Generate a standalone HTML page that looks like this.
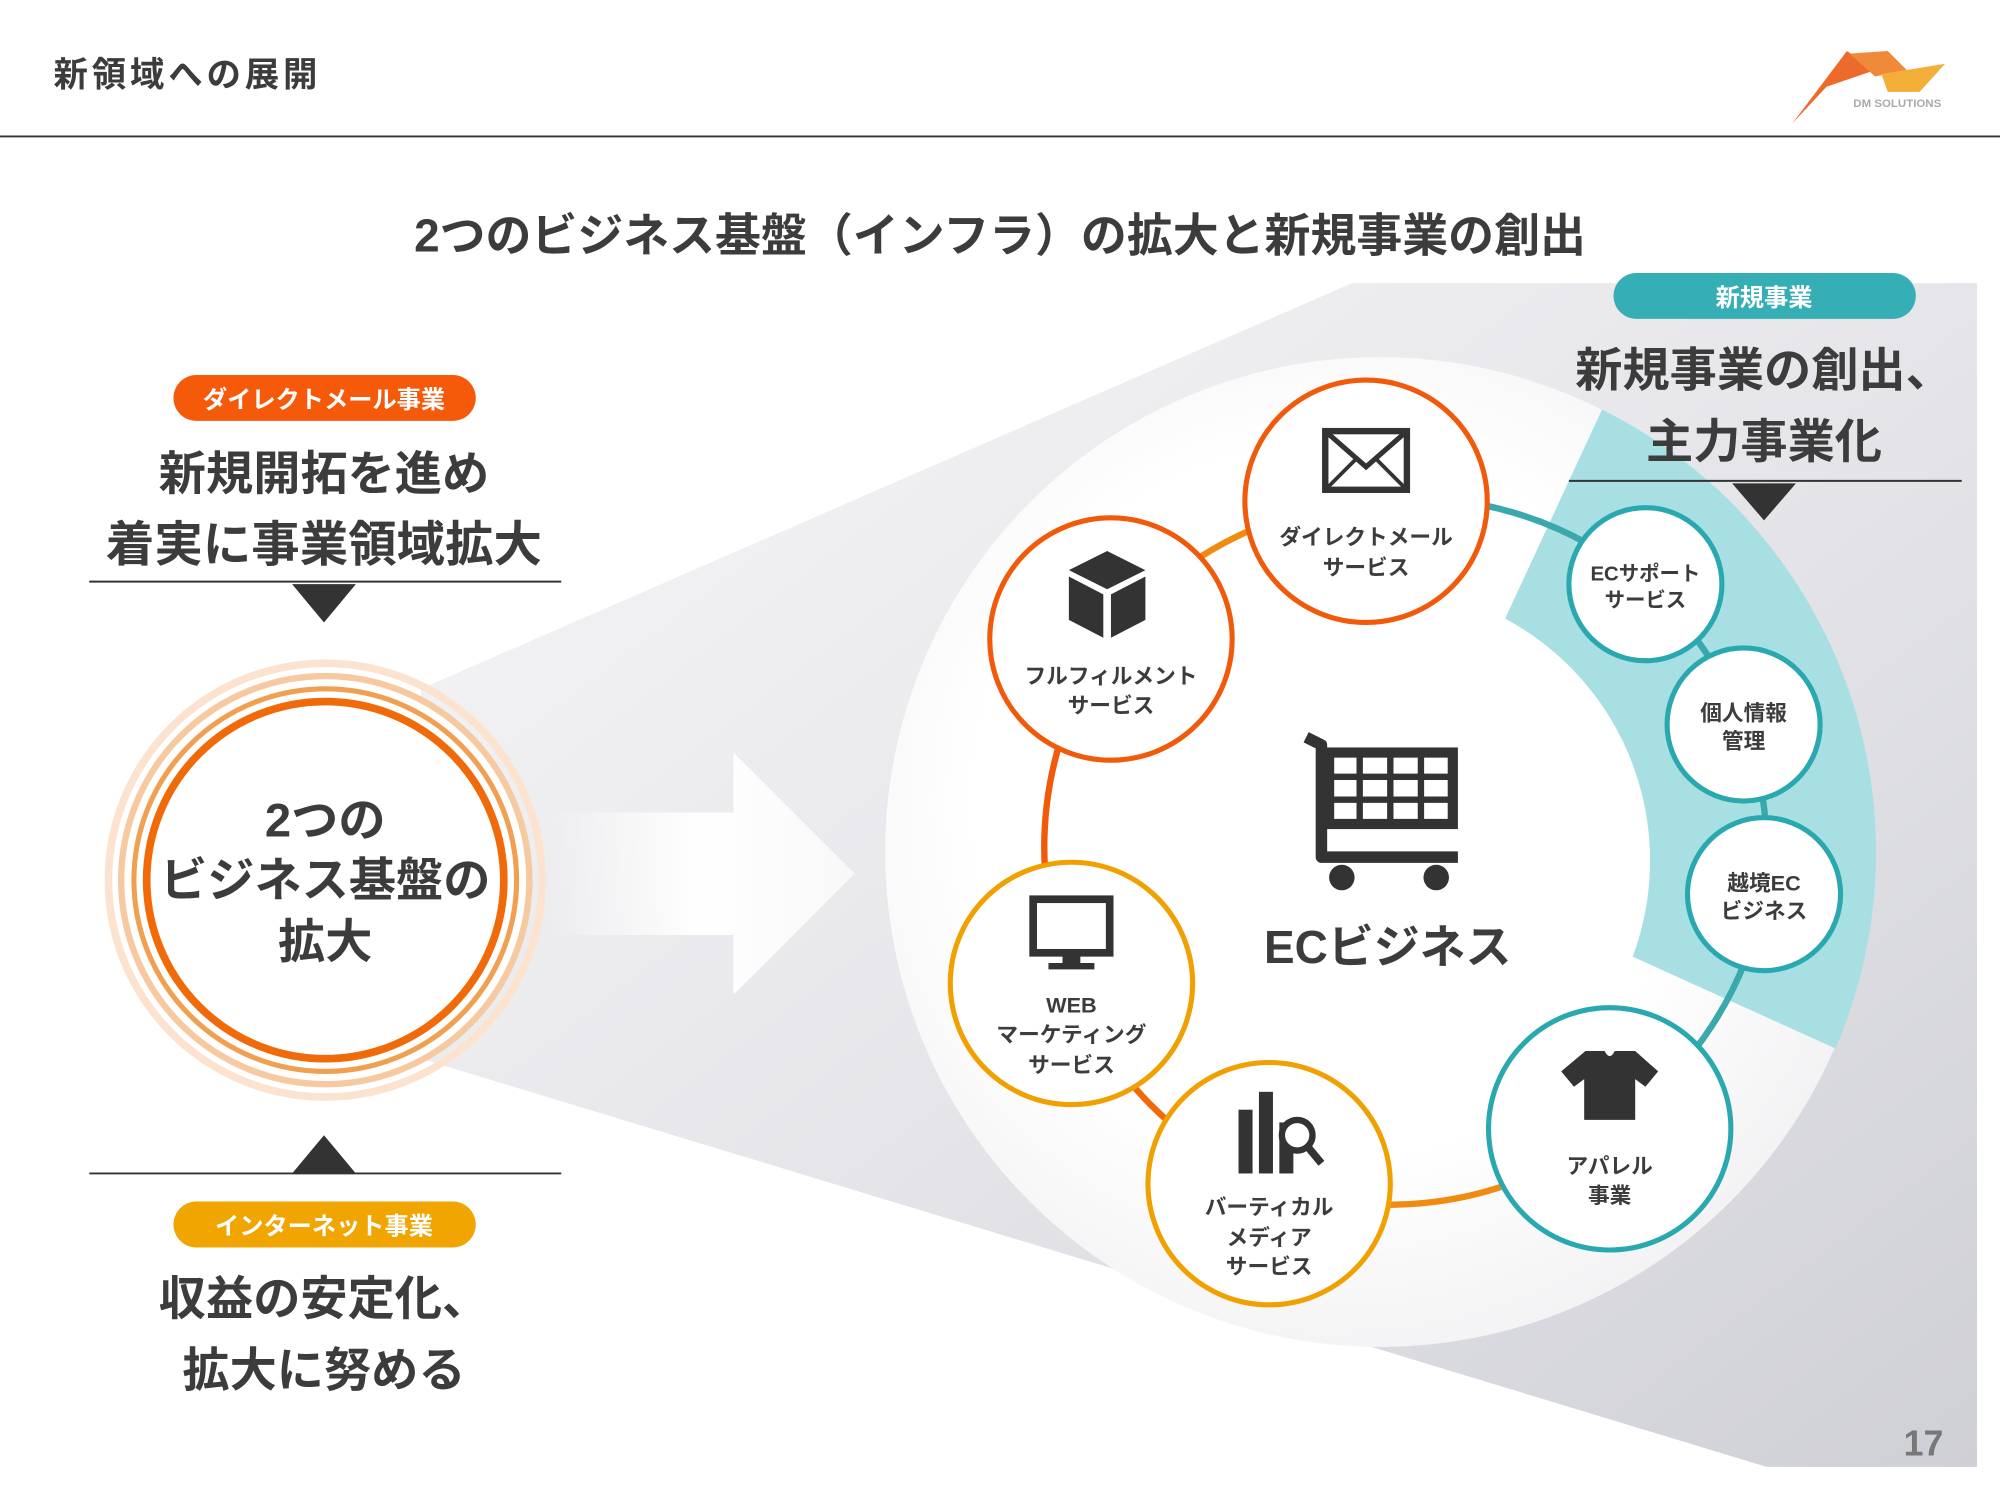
<!DOCTYPE html>
<html><head><meta charset="utf-8"><style>
html,body{margin:0;padding:0;background:#fff;}
svg{display:block}
text{font-family:"Liberation Sans","Noto Sans CJK JP",sans-serif;font-weight:bold;fill:#3c3c3c}
</style></head><body>
<svg width="2000" height="1500" viewBox="0 0 1568 1176" xmlns="http://www.w3.org/2000/svg">
<defs>
<linearGradient id="fan" x1="0" y1="0" x2="1" y2="1">
<stop offset="0" stop-color="#f7f7f8"/><stop offset="0.5" stop-color="#e6e6ea"/><stop offset="1" stop-color="#cfd0d6"/>
</linearGradient>
<linearGradient id="arr" x1="0" y1="0" x2="1" y2="0">
<stop offset="0" stop-color="#fff" stop-opacity="0"/><stop offset="0.5" stop-color="#fff"/><stop offset="1" stop-color="#f8f8f8"/>
</linearGradient>
<radialGradient id="big" cx="0.45" cy="0.45" r="0.6">
<stop offset="0.6" stop-color="#ffffff"/><stop offset="1" stop-color="#f1f1f3"/>
</radialGradient>
</defs>
<rect width="1568" height="1176" fill="#fff"/>
<text x="42" y="68" font-size="27" letter-spacing="3">新領域への展開</text>
<line x1="0" y1="107" x2="1568" y2="107" stroke="#333" stroke-width="1.5"/>
<!-- logo -->
<polygon points="1405,97 1448,40 1470,55 1432,68" fill="#ee6a2a"/>
<polygon points="1450,42 1480,40 1495,55 1470,60" fill="#f08a3a"/>
<polygon points="1475,58 1525,50 1505,72 1480,72" fill="#f4ae3a"/>
<text x="1453" y="84" font-size="9" style="fill:#aaa">DM SOLUTIONS</text>

<text x="784" y="197" font-size="36" text-anchor="middle">2つのビジネス基盤（インフラ）の拡大と新規事業の創出</text>

<!-- fan -->
<polygon points="330,540 1060,222 1550,222 1550,1150 1385,1150 330,830" fill="url(#fan)"/>
<!-- arrow -->
<polygon points="430,637 575,637 575,590 670,685 575,780 575,733 430,733" fill="url(#arr)"/>
<!-- big circle -->
<circle cx="1082" cy="668" r="388" fill="url(#big)"/>
<!-- teal band -->
<path d="M1256,321 A388,388 0 0 1 1439,822 L1280,750 A215,215 0 0 0 1180,485 Z" fill="#a8dfe3"/>
<!-- ring segments -->
<g fill="none" stroke-width="5">
<path d="M871,501 A280,280 0 0 1 1071,393" stroke="#f08a10"/>
<path d="M1071,393 A280,280 0 0 1 1290,458" stroke="#3aa8ad"/>
<path d="M1290,458 A280,280 0 0 1 1367,568" stroke="#3aa8ad"/>
<path d="M1367,568 A280,280 0 0 1 1383,701" stroke="#3aa8ad"/>
<path d="M1383,701 A280,280 0 0 1 1262,885" stroke="#3aa8ad"/>
<path d="M1262,885 A280,280 0 0 1 995,928" stroke="#f08a10"/>
<path d="M995,928 A280,280 0 0 1 840,771" stroke="#f06a0a"/>
<path d="M840,771 A280,280 0 0 1 871,501" stroke="#f05a0a"/>
</g>

<!-- nodes -->
<g stroke-width="4" fill="#fff">
<circle cx="1071" cy="393" r="95" stroke="#f05a0a"/>
<circle cx="871" cy="501" r="95" stroke="#f05a0a"/>
<circle cx="840" cy="771" r="95" stroke="#f0a000"/>
<circle cx="995" cy="928" r="95" stroke="#f0a000"/>
<circle cx="1262" cy="885" r="95" stroke="#2aa8b0"/>
<circle cx="1290" cy="458" r="60" stroke="#2aa8b0"/>
<circle cx="1367" cy="568" r="60" stroke="#2aa8b0"/>
<circle cx="1383" cy="701" r="60" stroke="#2aa8b0"/>
</g>
<!-- icons -->
<g fill="#333" stroke="#333">
<rect x="1039" y="338" width="64" height="46" fill="none" stroke-width="5"/>
<polyline points="1039,338 1071,366 1103,338" fill="none" stroke-width="4"/>
<line x1="1039" y1="384" x2="1063" y2="360" stroke-width="3"/>
<line x1="1103" y1="384" x2="1079" y2="360" stroke-width="3"/>
<polygon points="868,432 898,447 868,462 838,447" stroke="none"/>
<polygon points="838,452 865,466 865,500 838,486" stroke="none"/>
<polygon points="871,466 898,452 898,486 871,500" stroke="none"/>
<rect x="810" y="705" width="60" height="42" fill="none" stroke-width="6"/>
<rect x="833" y="747" width="14" height="8" stroke="none"/>
<rect x="822" y="755" width="36" height="5" stroke="none"/>
<rect x="971" y="870" width="11" height="50" stroke="none"/>
<rect x="987" y="856" width="11" height="64" stroke="none"/>
<rect x="1003" y="880" width="11" height="40" stroke="none"/>
<circle cx="1017" cy="890" r="12" fill="#fff" stroke-width="5"/>
<line x1="1026" y1="900" x2="1036" y2="912" stroke-width="6"/>
<path d="M1243,824 L1258,824 Q1262,832 1266,824 L1282,824 L1300,840 L1290,852 L1282,846 L1282,878 L1242,878 L1242,846 L1234,852 L1224,840 Z" stroke="none"/>
<!-- cart -->
<path d="M1024,578 L1036,584 L1036,672 L1143,672" fill="none" stroke-width="9" stroke-linejoin="round"/>
<rect x="1042" y="590" width="97" height="56" fill="none" stroke-width="8"/>
<line x1="1042" y1="609" x2="1139" y2="609" stroke-width="5"/>
<line x1="1042" y1="627" x2="1139" y2="627" stroke-width="5"/>
<line x1="1066" y1="590" x2="1066" y2="646" stroke-width="5"/>
<line x1="1090" y1="590" x2="1090" y2="646" stroke-width="5"/>
<line x1="1114" y1="590" x2="1114" y2="646" stroke-width="5"/>
<circle cx="1052" cy="688" r="10" stroke="none"/>
<circle cx="1126" cy="688" r="10" stroke="none"/>
</g>
<text x="1088" y="755" font-size="36" text-anchor="middle">ECビジネス</text>

<g font-size="17" text-anchor="middle">
<text x="1071" y="427">ダイレクトメール</text><text x="1071" y="451">サービス</text>
<text x="871" y="536">フルフィルメント</text><text x="871" y="559">サービス</text>
<text x="840" y="794">WEB</text><text x="840" y="817">マーケティング</text><text x="840" y="841">サービス</text>
<text x="995" y="952">バーティカル</text><text x="995" y="976">メディア</text><text x="995" y="999">サービス</text>
<text x="1262" y="920">アパレル</text><text x="1262" y="943">事業</text>
<text x="1290" y="455" font-size="16">ECサポート</text><text x="1290" y="476" font-size="16">サービス</text>
<text x="1367" y="565" font-size="17">個人情報</text><text x="1367" y="587" font-size="17">管理</text>
<text x="1383" y="698" font-size="17">越境EC</text><text x="1383" y="720" font-size="17">ビジネス</text>
</g>

<!-- left -->
<rect x="136" y="294" width="237" height="36" rx="18" fill="#f45a0a"/>
<text x="254" y="320" font-size="19" text-anchor="middle" style="fill:#fff">ダイレクトメール事業</text>
<text x="254" y="384" font-size="37" text-anchor="middle">新規開拓を進め</text>
<text x="254" y="440" font-size="38" text-anchor="middle">着実に事業領域拡大</text>
<line x1="70" y1="456" x2="440" y2="456" stroke="#333" stroke-width="1.5"/>
<polygon points="229,458 279,458 254,488" fill="#333"/>
<circle cx="255" cy="690" r="170" fill="none" stroke="#fbe3cf" stroke-width="6"/>
<circle cx="255" cy="690" r="160" fill="#fff" stroke="#f7c9a0" stroke-width="5"/>
<circle cx="255" cy="690" r="150" fill="none" stroke="#f0a050" stroke-width="4"/>
<circle cx="255" cy="690" r="140" fill="#fff" stroke="#f06a0a" stroke-width="6"/>
<text x="255" y="656" font-size="37" text-anchor="middle">2つの</text>
<text x="255" y="703" font-size="37" text-anchor="middle">ビジネス基盤の</text>
<text x="255" y="751" font-size="37" text-anchor="middle">拡大</text>
<polygon points="229,920 279,920 254,890" fill="#333"/>
<line x1="70" y1="920" x2="440" y2="920" stroke="#333" stroke-width="1.5"/>
<rect x="136" y="942" width="237" height="36" rx="18" fill="#f0a500"/>
<text x="254" y="968" font-size="19" text-anchor="middle" style="fill:#fff">インターネット事業</text>
<text x="254" y="1031" font-size="37" text-anchor="middle">収益の安定化、</text>
<text x="254" y="1087" font-size="37" text-anchor="middle">拡大に努める</text>

<!-- right header -->
<rect x="1265" y="214" width="237" height="36" rx="18" fill="#35aeb5"/>
<text x="1383" y="240" font-size="19" text-anchor="middle" style="fill:#fff">新規事業</text>
<text x="1383" y="303" font-size="37" text-anchor="middle">新規事業の創出、</text>
<text x="1383" y="359" font-size="37" text-anchor="middle">主力事業化</text>
<line x1="1230" y1="377" x2="1538" y2="377" stroke="#333" stroke-width="1.5"/>
<polygon points="1358,379 1408,379 1383,408" fill="#333"/>

<text x="1508" y="1141" font-size="28" text-anchor="middle" style="fill:#777">17</text>
</svg>
</body></html>
